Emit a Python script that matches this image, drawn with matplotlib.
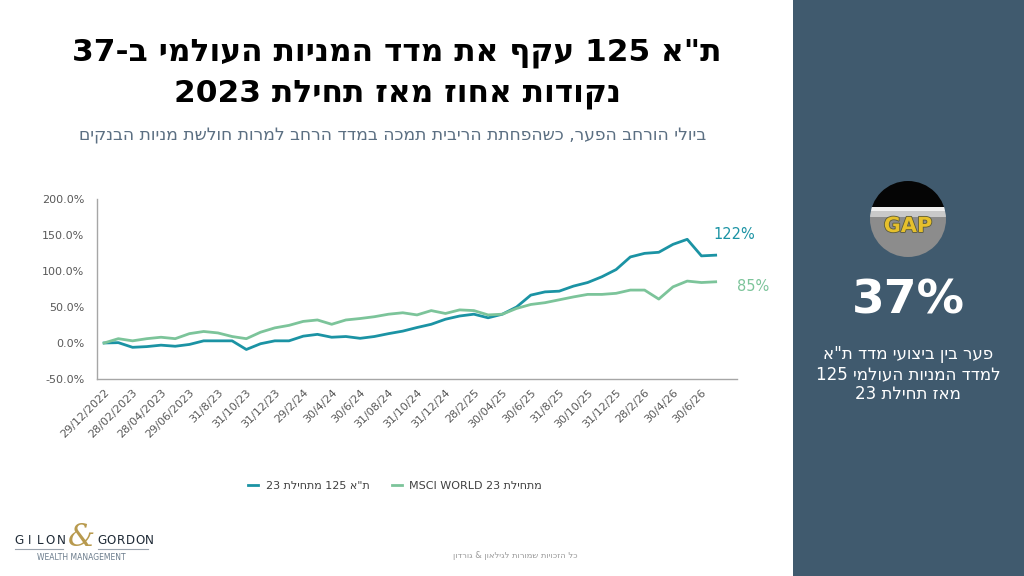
import re
import numpy as np
import matplotlib
matplotlib.use('Agg')
import matplotlib.pyplot as plt
from matplotlib.patches import Rectangle, Circle
import matplotlib.patheffects as pe

# monthly cumulative returns since end of 2022, in %
dates = ['29/12/2022', '31/01/2023', '28/02/2023', '31/03/2023', '28/04/2023', '31/05/2023',
         '29/06/2023', '31/07/2023', '31/8/23', '30/9/23', '31/10/23', '30/11/23',
         '31/12/23', '31/1/24', '29/2/24', '31/3/24', '30/4/24', '31/5/24',
         '30/6/24', '31/7/24', '31/08/24', '30/9/24', '31/10/24', '30/11/24',
         '31/12/24', '31/1/25', '28/2/25', '31/3/25', '30/04/25', '31/5/25',
         '30/6/25', '31/7/25', '31/8/25', '30/9/25', '30/10/25', '30/11/25',
         '31/12/25', '31/1/26', '28/2/26', '31/3/26', '30/4/26', '31/5/26',
         '30/6/26', '31/7/26']
ta125 = [0, 0.5, -6, -5, -3, -4.5, -2, 3, 3, 3, -9, -1,
         3, 3, 9.5, 12, 8, 9, 6.5, 9, 13, 16.5, 21.5, 26,
         33, 37.5, 40, 35, 40, 50, 66.5, 71, 72, 79, 84, 92,
         102, 119.5, 124.5, 126, 137, 144, 121, 122]
msci = [0, 6, 3, 6, 8, 6, 13, 16, 14, 9, 6, 15,
        21, 24.5, 30, 32, 26, 32, 34, 36.5, 40, 42, 39, 45,
        41, 46, 45, 39, 40, 48, 53.5, 56, 60, 64, 67.5, 67.5,
        69, 73.5, 73.5, 61, 78, 86, 84, 85]

title = 'ת"א 125 עקף את מדד המניות העולמי ב-37\nנקודות אחוז מאז תחילת 2023'
subtitle = 'ביולי הורחב הפער, כשהפחתת הריבית תמכה במדד הרחב למרות חולשת מניות הבנקים'
label_ta = 'ת"א 125 מתחילת 23'
label_msci = 'מתחילת MSCI WORLD 23'
panel_lines = ['פער בין ביצועי מדד ת"א', 'למדד המניות העולמי 125', 'מאז תחילת 23']
footer = 'כל הזכויות שמורות לגילאון & גורדון'

TEAL = '#1b93a4'
GREEN = '#7cc49a'
PANEL = '#405a6e'

LTR = re.compile(r"[A-Za-z0-9](?:[A-Za-z0-9 .,%/&\-]*[A-Za-z0-9%])?")


def vis(s):
    # crude bidi: put a right-to-left line into visual order
    out = []
    for line in s.split('\n'):
        parts = []
        pos = 0
        for m in LTR.finditer(line):
            if m.start() > pos:
                parts.append(line[pos:m.start()][::-1])
            parts.append(m.group())
            pos = m.end()
        if pos < len(line):
            parts.append(line[pos:][::-1])
        out.append(''.join(reversed(parts)))
    return '\n'.join(out)


def fx(x):
    return x / 1024


def fy(y):
    return 1 - y / 576


plt.rcParams['font.family'] = ['DejaVu Sans']

fig = plt.figure(figsize=(10.24, 5.76), dpi=100)
fig.patch.set_facecolor('white')

# right side panel (behind the axes)
fig.patches.append(Rectangle((fx(793), 0), 1 - fx(793), 1, transform=fig.transFigure,
                             facecolor=PANEL, edgecolor='none', zorder=-5))

# main chart
ax = fig.add_axes([fx(97), fy(379), fx(737) - fx(97), fy(199) - fy(379)])
x = np.arange(len(dates))
ax.plot(x, ta125, color=TEAL, lw=2.0, label=vis(label_ta))
ax.plot(x, msci, color=GREEN, lw=2.0, label=vis(label_msci))
ax.set_xlim(-0.5, 44.5)
ax.set_ylim(-50, 200)
ax.set_yticks([-50, 0, 50, 100, 150, 200])
ax.set_yticklabels([f'{v:.1f}%' for v in [-50, 0, 50, 100, 150, 200]])
ax.set_xticks(x[::2])
ax.set_xticklabels(dates[::2], rotation=45, ha='right', rotation_mode='anchor')
ax.tick_params(axis='both', length=0, labelsize=8, colors='#595959')
ax.tick_params(axis='x', pad=6)
ax.tick_params(axis='y', pad=9)
for s in ['top', 'right']:
    ax.spines[s].set_visible(False)
for s in ['left', 'bottom']:
    ax.spines[s].set_color('#a6a6a6')
    ax.spines[s].set_linewidth(1.0)

ax.annotate(f'{ta125[-1]:.0f}%', (x[-1], ta125[-1]), xytext=(19, 21),
            textcoords='offset pixels', color=TEAL, fontsize=10.5, ha='center', va='center')
ax.annotate(f'{msci[-1]:.0f}%', (x[-1], msci[-1]), xytext=(37, -5),
            textcoords='offset pixels', color=GREEN, fontsize=10.5, ha='center', va='center')

leg = ax.legend(loc='center', bbox_to_anchor=(fx(395), fy(486)), bbox_transform=fig.transFigure,
                ncol=2, frameon=False, fontsize=8, handlelength=0.9, columnspacing=2.0,
                handletextpad=0.7)
for t in leg.get_texts():
    t.set_color('#404040')

# titles
fig.text(fx(397), fy(74), vis(title), ha='center', va='center', fontsize=22.5,
         fontweight='bold', color='black', linespacing=1.45)
fig.text(fx(393), fy(135), vis(subtitle), ha='center', va='center', fontsize=12.3,
         color='#5b6f82')

# GAP picture
axg = fig.add_axes([fx(870), fy(257), 76 / 1024, 76 / 576])
axg.set_xlim(0, 76)
axg.set_ylim(0, 76)
axg.axis('off')
clip = Circle((38, 38), 38, transform=axg.transData)
bands = [(0, 40, '#8c8c8c'), (40, 6, '#c9c9c9'), (46, 4, '#f0f0f0'), (50, 26, '#050505')]
for y0, h, c in bands:
    r = Rectangle((0, y0), 76, h, facecolor=c, edgecolor='none')
    axg.add_patch(r)
    r.set_clip_path(clip)
axg.text(38, 31, 'GAP', ha='center', va='center', fontsize=15, fontweight='bold',
         color='#e6c02c',
         path_effects=[pe.withStroke(linewidth=1.2, foreground='#5a5a3a')])

fig.text(fx(908), fy(301), '37%', ha='center', va='center', fontsize=34,
         fontweight='bold', color='white')
for i, ln in enumerate(panel_lines):
    fig.text(fx(908), fy(354 + 20 * i), vis(ln), ha='center', va='center',
             fontsize=12, color='white')

# logo
for i, ch in enumerate('GILON'):
    fig.text(fx(19 + 10.5 * i), fy(540), ch, ha='center', va='center', fontsize=9.5,
             fontstretch='condensed', color='#1f2a36')
for i, ch in enumerate('GORDON'):
    fig.text(fx(102 + 9.4 * i), fy(540), ch, ha='center', va='center', fontsize=9.5,
             fontstretch='condensed', color='#1f2a36')
fig.text(fx(81), fy(537), '&', ha='center', va='center', fontsize=22,
         family='DejaVu Serif', style='italic', color='#b89a4e')
fig.add_artist(plt.Line2D([fx(15), fx(63)], [fy(549), fy(549)], color='#9aa3ad', lw=0.8))
fig.add_artist(plt.Line2D([fx(98), fx(148)], [fy(549), fy(549)], color='#9aa3ad', lw=0.8))
fig.text(fx(81), fy(558), 'WEALTH MANAGEMENT', ha='center', va='center', fontsize=5.5,
         color='#6b7c8c')

fig.text(fx(515), fy(556), vis(footer), ha='center', va='center', fontsize=6,
         color='#9a9a9a')

fig.savefig('out.png', dpi=100, facecolor=fig.get_facecolor())
